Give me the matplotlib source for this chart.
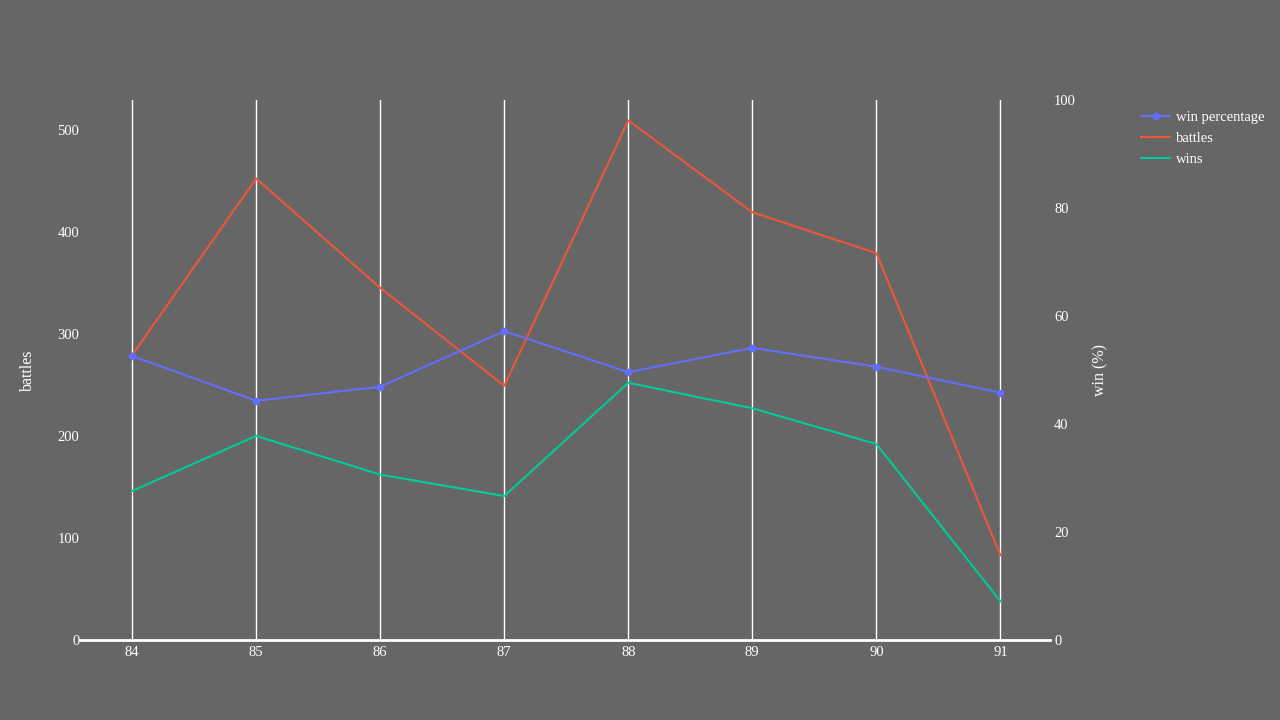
import matplotlib
matplotlib.use("Agg")
import matplotlib.pyplot as plt
from matplotlib.lines import Line2D

episodes = [84, 85, 86, 87, 88, 89, 90, 91]
battles = [279, 452, 345, 249, 509, 419, 379, 83]
wins = [146, 200, 162, 141, 252, 227, 192, 38]
win_pct = [52.6, 44.3, 46.9, 57.2, 49.6, 54.1, 50.6, 45.8]
left_ticks = [0, 100, 200, 300, 400, 500]
right_ticks = [0, 20, 40, 60, 80, 100]

BG = "#666666"
FG = "white"
C_PCT = "#636efa"
C_BAT = "#EF553B"
C_WIN = "#00cc96"

plt.rcParams["font.family"] = ["Liberation Serif", "DejaVu Serif"]
FS = 10.5

W, H = 1280, 720
fig = plt.figure(figsize=(W / 100, H / 100), dpi=100, facecolor=BG)
x0, x1, y0, y1 = 80, 1050, 100, 640
ax = fig.add_axes([x0 / W, 1 - y1 / H, (x1 - x0) / W, (y1 - y0) / H])
ax.set_facecolor(BG)
for s in ax.spines.values():
    s.set_visible(False)

ax.plot(episodes, battles, color=C_BAT, lw=1.5, zorder=3)
ax.plot(episodes, wins, color=C_WIN, lw=1.5, zorder=3)
ax.set_xlim(83.58, 91.40)
ax.set_ylim(0, 529)
ax.set_xticks(episodes)
ax.set_xticklabels([str(e) for e in episodes])
ax.set_yticks(left_ticks)
ax.tick_params(axis="both", length=0, colors=FG, labelsize=FS)
ax.tick_params(axis="x", pad=4)
ax.tick_params(axis="y", pad=0.5)
ax.grid(axis="x", color=FG, lw=1, zorder=1)
ax.axhline(0, color=FG, lw=2, zorder=2, clip_on=False)
ax.set_ylabel("battles", color=FG, fontsize=11.5)
ax.yaxis.set_label_coords((36 - x0) / (x1 - x0), 0.5)

ax2 = ax.twinx()
for s in ax2.spines.values():
    s.set_visible(False)
ax2.plot(episodes, win_pct, color=C_PCT, lw=1.5, marker="o", ms=4.5, zorder=4)
ax2.set_ylim(0, 100)
ax2.set_yticks(right_ticks)
ax2.tick_params(axis="y", length=0, colors=FG, labelsize=FS, pad=3)
ax2.set_ylabel("win (%)", color=FG, fontsize=11.5)
ax2.yaxis.set_label_coords((1092 - x0) / (x1 - x0), 0.5)

handles = [
    Line2D([], [], color=C_PCT, lw=1.5, marker="o", ms=4.5),
    Line2D([], [], color=C_BAT, lw=1.5),
    Line2D([], [], color=C_WIN, lw=1.5),
]
labels = ["win percentage", "battles", "wins"]
fig.legend(handles, labels, loc="upper left", bbox_to_anchor=(1141 / W, 1 - 111 / H),
           frameon=False, labelcolor=FG, fontsize=FS, handlelength=2.0,
           handletextpad=0.4, labelspacing=0.52, borderaxespad=0, borderpad=0)

fig.savefig("out.png", dpi=100, facecolor=BG)
